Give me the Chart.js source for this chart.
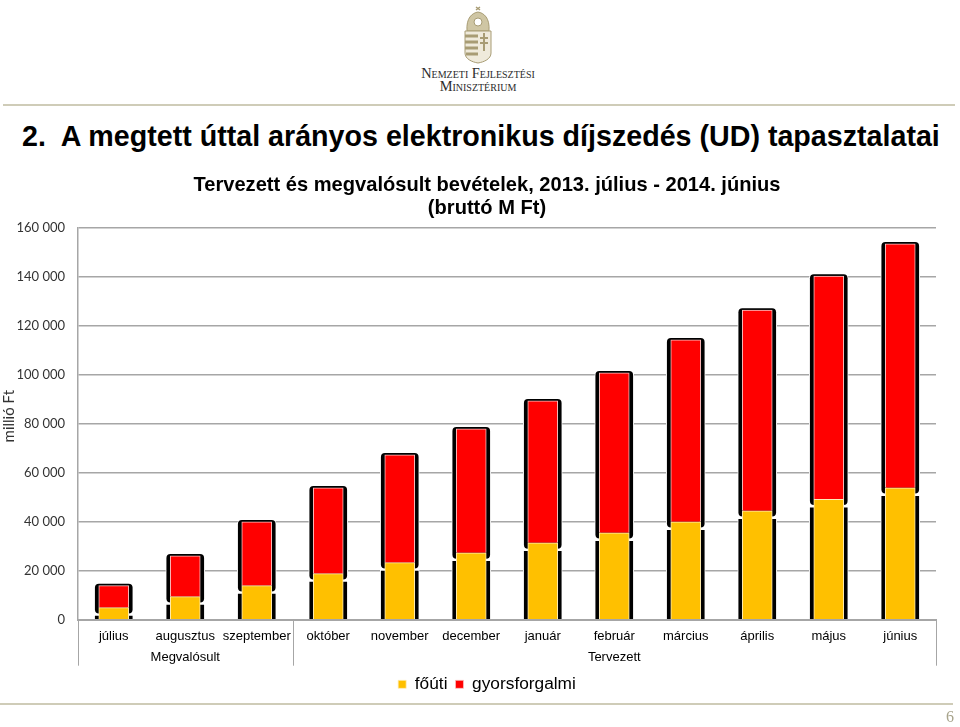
<!DOCTYPE html>
<html lang="hu">
<head>
<meta charset="UTF-8">
<title>Tervezett és megvalósult bevételek</title>
<style>
    html, body { margin: 0; padding: 0; background: #fff; }
    body { width: 960px; height: 727px; position: relative; overflow: hidden; font-family: "Liberation Sans", Arial, sans-serif; }
    #crest { position: absolute; left: 462px; top: 6px; }
    .ministry { position: absolute; left: 378px; width: 200px; text-align: center; font-family: "Liberation Serif", serif; font-variant: small-caps; font-size: 14.4px; line-height: 12px; color: #2b2b2b; white-space: nowrap; }
    .rule { position: absolute; height: 2px; background: #cfccb8; }
    #heading { position: absolute; left: 22px; top: 118px; font-weight: bold; font-size: 28.65px; line-height: 36px; color: #000; white-space: pre; }
    #chart-box { position: absolute; left: 0; top: 170px; width: 974px; height: 540px; }
    canvas { display: block; }
    #page-no { position: absolute; left: 946px; top: 708px; font-family: "Liberation Serif", serif; font-size: 16px; color: #a8a48c; }
</style>
</head>
<body>
    <svg id="crest" width="32" height="58" viewBox="0 0 32 58">
        <path d="M5 25 C4 12 10 7 16 6 C22 7 28 12 27 25 Z" fill="#cfc6a4" stroke="#a89c74"/>
        <path d="M14 4 L18 1 M14 1 L18 4" stroke="#a89c74" stroke-width="1.5"/>
        <circle cx="16" cy="16" r="4" fill="#fff" stroke="#a89c74"/>
        <path d="M3 25 H29 V47 C29 53 22 56 16 57 C10 56 3 53 3 47 Z" fill="#efeadb" stroke="#a89c74"/>
        <path d="M3 30 H16 M3 36 H16 M3 42 H16 M4 48 H16" stroke="#a89c74" stroke-width="3"/>
        <path d="M22 27 V45 M18 32 H26 M18 37 H26" stroke="#a89c74" stroke-width="2"/>
    </svg>
    <div class="ministry" style="top:67px;">Nemzeti Fejlesztési</div>
    <div class="ministry" style="top:80px;">Minisztérium</div>
    <div class="rule" style="left:3px;top:104px;width:952px;"></div>
    <div id="heading">2.  A megtett úttal arányos elektronikus díjszedés (UD) tapasztalatai</div>
    <div id="chart-box"><canvas id="chart" width="974" height="540"></canvas></div>
    <div class="rule" style="left:0;top:703px;width:953px;"></div>
    <div id="page-no">6</div>

    <script src="https://cdn.jsdelivr.net/npm/chart.js"></script>
    <script>
        const months = ['július', 'augusztus', 'szeptember', 'október', 'november', 'december',
                        'január', 'február', 'március', 'április', 'május', 'június'];
        const fouti = [4900, 9400, 13900, 18800, 23300, 27300, 31400, 35500, 40000, 44500, 49200, 53900];
        const gyorsforgalmi = [9000, 16700, 26100, 35100, 44000, 50700, 58000, 65300, 74300, 82000, 91200, 99600];
        const yTicks = [0, 20000, 40000, 60000, 80000, 100000, 120000, 140000, 160000];
        const groupLabels = ['Megvalósult', 'Tervezett'];
        const groupCentres = [1, 7];
        const groupEdges = [-0.5, 2.5, 11.5];

        const GRAY = '#a6a6a6';
        const UNITS_PER_PX = 160000 / 392;

        // fekete keret a szegmensek mögött
        const backHigh = fouti.map((v, i) => [v - 6.5 * UNITS_PER_PX, v + gyorsforgalmi[i] + 2.5 * UNITS_PER_PX]);
        const backLow = fouti.map(v => [0, v - 7.5 * UNITS_PER_PX]);

        const groupDividers = {
            id: 'groupDividers',
            afterDraw(chart) {
                const { ctx, scales: { x } } = chart;
                ctx.save();
                ctx.strokeStyle = GRAY;
                ctx.lineWidth = 1;
                groupEdges.forEach(edge => {
                    const px = Math.round(x.getPixelForValue(edge)) + 0.5;
                    ctx.beginPath();
                    ctx.moveTo(px, x.top);
                    ctx.lineTo(px, x.top + 46);
                    ctx.stroke();
                });
                ctx.restore();
            }
        };

        new Chart(document.getElementById('chart'), {
            type: 'bar',
            data: {
                labels: months,
                datasets: [
                    { label: 'főúti', data: fouti, stack: 'front', order: 1, barThickness: 30,
                      backgroundColor: '#ffc000', borderColor: '#ffeeb8',
                      borderWidth: { left: 1, right: 1, top: 1, bottom: 0 }, borderSkipped: false },
                    { label: 'gyorsforgalmi', data: gyorsforgalmi, stack: 'front', order: 1, barThickness: 30,
                      backgroundColor: '#ff0000', borderColor: '#f8c4c4',
                      borderWidth: { left: 1, right: 1, top: 1, bottom: 0 }, borderSkipped: false },
                    { label: 'keret felső', data: backHigh, stack: 'high', order: 2, barThickness: 39,
                      backgroundColor: '#000', borderColor: '#fff', borderWidth: 1, borderRadius: 5, borderSkipped: false },
                    { label: 'keret alsó', data: backLow, stack: 'low', order: 3, barThickness: 39,
                      backgroundColor: '#000', borderColor: '#fff',
                      borderWidth: { left: 1, right: 1, top: 1, bottom: 0 }, borderSkipped: false }
                ]
            },
            options: {
                responsive: false,
                animation: false,
                datasets: { bar: { grouped: false } },
                layout: { padding: { left: 0, right: 0, top: 0, bottom: 7 } },
                plugins: {
                    tooltip: { enabled: false },
                    title: {
                        display: true,
                        text: ['Tervezett és megvalósult bevételek, 2013. július - 2014. június', '(bruttó M Ft)'],
                        color: '#000',
                        font: { family: '"Liberation Sans"', size: 20.1, weight: 'bold', lineHeight: 1.144 },
                        padding: { top: 4, bottom: 8 }
                    },
                    legend: {
                        position: 'bottom',
                        labels: {
                            filter: item => item.datasetIndex < 2,
                            boxWidth: 8,
                            boxHeight: 8,
                            color: '#000',
                            font: { family: '"Liberation Sans"', size: 17.3 },
                            padding: 8
                        }
                    }
                },
                scales: {
                    x: {
                        stacked: true,
                        grid: { display: false, drawTicks: false },
                        border: { color: GRAY, width: 2, z: 1 },
                        ticks: { color: '#000', font: { family: '"Liberation Sans"', size: 13 }, maxRotation: 0, autoSkip: false, padding: 9 },
                        afterFit: scale => { scale.height = 28; }
                    },
                    x2: {
                        type: 'linear',
                        position: 'bottom',
                        offset: false,
                        min: groupEdges[0],
                        max: groupEdges[2],
                        grid: { display: false, drawTicks: false },
                        border: { display: false },
                        afterBuildTicks: scale => { scale.ticks = groupCentres.map(value => ({ value })); },
                        ticks: {
                            color: '#000',
                            font: { family: '"Liberation Sans"', size: 13 },
                            maxRotation: 0,
                            autoSkip: false,
                            padding: 2,
                            callback: value => groupLabels[groupCentres.indexOf(value)]
                        },
                        afterFit: scale => { scale.height = 20; }
                    },
                    y: {
                        stacked: true,
                        min: 0,
                        max: 160000,
                        title: { display: true, text: '    millió Ft', color: '#333', font: { family: 'Lato', size: 15 }, padding: 0 },
                        grid: { color: GRAY, lineWidth: 1.5, drawTicks: false },
                        border: { color: GRAY, width: 1.5 },
                        afterBuildTicks: scale => { scale.ticks = yTicks.map(value => ({ value })); },
                        ticks: {
                            color: '#333',
                            font: { family: 'Lato', size: 13 },
                            padding: 13,
                            callback: value => String(value).replace(/\B(?=(\d{3})+$)/g, ' ')
                        },
                        afterFit: scale => { scale.width = 78; }
                    },
                    // üres jobb oldali tengely, hogy a cím és a jelmagyarázat a teljes szélességre igazodjon
                    yRight: {
                        position: 'right',
                        grid: { display: false },
                        border: { display: false },
                        ticks: { display: false },
                        afterFit: scale => { scale.width = 38; }
                    }
                }
            },
            plugins: [groupDividers]
        });
    </script>
</body>
</html>
